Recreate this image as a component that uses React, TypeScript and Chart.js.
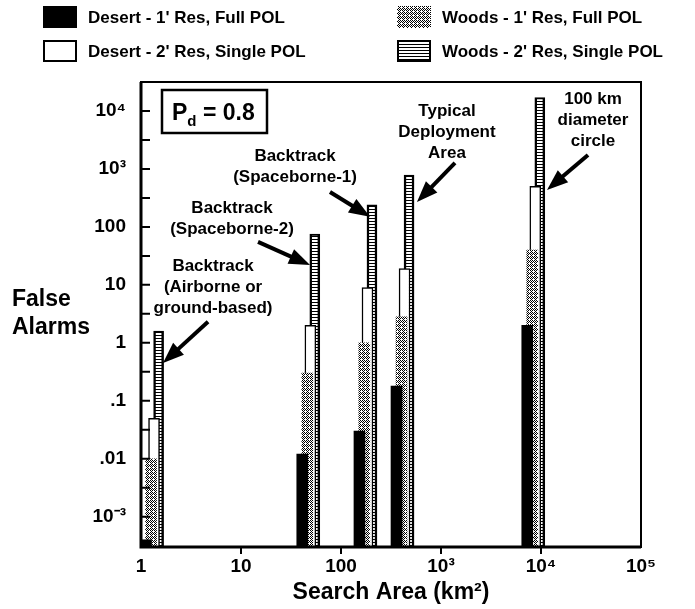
import React, { useEffect, useRef } from 'react';
import { Chart, registerables } from 'chart.js';

Chart.register(...registerables);

// ---------------- data ----------------
const SERIES_NAMES = [
  "Desert - 1' Res, Full POL",
  "Woods - 1' Res, Full POL",
  "Desert - 2' Res, Single POL",
  "Woods - 2' Res, Single POL",
];

// search area (km²) and false alarms for each bar, per series
const DESERT_1_AREA = [1.12, 41, 153, 359, 7290];
const DESERT_1_ALARMS = [0.0004, 0.012, 0.03, 0.18, 2];
const WOODS_1_AREA = [1.26, 46, 171, 403, 8180];
const WOODS_1_ALARMS = [0.01, 0.3, 1.0, 2.8, 40];
const DESERT_2_AREA = [1.35, 49.4, 184, 432, 8770];
const DESERT_2_ALARMS = [0.05, 2, 9, 19, 500];
const WOODS_2_AREA = [1.5, 54.7, 204, 479, 9730];
const WOODS_2_ALARMS = [1.6, 75, 240, 780, 17000];

const X_TICKS = [1, 10, 100, 1000, 10000, 100000];
const X_TICK_LABELS = ['1', '10', '100', '10³', '10⁴', '10⁵'];
const Y_TICKS = [1e-3, 1e-2, 0.1, 1, 10, 100, 1e3, 1e4];
const Y_TICK_LABELS = ['10⁻³', '.01', '.1', '1', '10', '100', '10³', '10⁴'];

const X_MIN = 1;
const X_MAX = 1e5;
const Y_MIN = Math.pow(10, -3.5);
const Y_MAX = Math.pow(10, 4.5);

// annotations: text centre and arrow (from -> tip) in data coordinates
const NOTE_LINES = [
  ['Backtrack', '(Airborne or', 'ground-based)'],
  ['Backtrack', '(Spaceborne-2)'],
  ['Backtrack', '(Spaceborne-1)'],
  ['Typical', 'Deployment', 'Area'],
  ['100 km', 'diameter', 'circle'],
];
const NOTE_TEXT_AT = [[5.25, 9.25], [8.13, 137], [34.7, 1083], [1148, 4345], [33113, 7000]];
const NOTE_ARROW_FROM = [[4.68, 2.3], [14.8, 55], [77.6, 401], [1380, 1268], [29512, 1742]];
const NOTE_ARROW_TO = [[1.66, 0.45], [49, 22], [195, 149], [575, 270], [11482, 435]];

const PD_TEXT = ['P', 'd', ' = 0.8'];
const X_TITLE = 'Search Area (km²)';
const Y_TITLE = ['False', 'Alarms'];

const FAMILY = '"Liberation Sans", Arial, Helvetica, sans-serif';

function makeDots(): CanvasPattern | string {
  const c = document.createElement('canvas');
  c.width = 4;
  c.height = 4;
  const g = c.getContext('2d');
  if (!g) return '#999';
  g.fillStyle = '#fff';
  g.fillRect(0, 0, 4, 4);
  g.fillStyle = '#000';
  const on = [
    [0, 0], [2, 0], [1, 1], [3, 1], [0, 2], [2, 2], [3, 3],
  ];
  on.forEach(([x, y]) => g.fillRect(x, y, 1, 1));
  return g.createPattern(c, 'repeat') || '#999';
}

function makeStripes(): CanvasPattern | string {
  const c = document.createElement('canvas');
  c.width = 2;
  c.height = 3;
  const g = c.getContext('2d');
  if (!g) return '#444';
  g.fillStyle = '#fff';
  g.fillRect(0, 0, 2, 3);
  g.fillStyle = '#000';
  g.fillRect(0, 2, 2, 1);
  return g.createPattern(c, 'repeat') || '#444';
}

function drawArrow(ctx: CanvasRenderingContext2D, x1: number, y1: number, x2: number, y2: number) {
  const ang = Math.atan2(y2 - y1, x2 - x1);
  const headLen = 21;
  const headHalf = 8;
  const bx = x2 - Math.cos(ang) * headLen;
  const by = y2 - Math.sin(ang) * headLen;
  ctx.save();
  ctx.strokeStyle = '#000';
  ctx.fillStyle = '#000';
  ctx.lineWidth = 4;
  ctx.lineCap = 'butt';
  ctx.beginPath();
  ctx.moveTo(x1, y1);
  ctx.lineTo(bx + Math.cos(ang) * 2, by + Math.sin(ang) * 2);
  ctx.stroke();
  ctx.beginPath();
  ctx.moveTo(x2, y2);
  ctx.lineTo(bx - Math.sin(ang) * headHalf, by + Math.cos(ang) * headHalf);
  ctx.lineTo(bx + Math.sin(ang) * headHalf, by - Math.cos(ang) * headHalf);
  ctx.closePath();
  ctx.fill();
  ctx.restore();
}

export default function App() {
  const ref = useRef<HTMLCanvasElement>(null);

  useEffect(() => {
    document.body.style.margin = '0';
    const canvas = ref.current;
    if (!canvas) return;
    const dots = makeDots();
    const stripes = makeStripes();

    const overlay = {
      id: 'overlay',
      afterDraw(chart: any) {
        const ctx: CanvasRenderingContext2D = chart.ctx;
        const xs = chart.scales.x;
        const ys = chart.scales.y;
        const a = chart.chartArea;
        ctx.save();

        // frame
        ctx.strokeStyle = '#000';
        ctx.lineWidth = 2;
        ctx.strokeRect(a.left, a.top, a.right - a.left, a.bottom - a.top);
        ctx.lineWidth = 3;
        ctx.beginPath();
        ctx.moveTo(a.left, a.top);
        ctx.lineTo(a.left, a.bottom);
        ctx.lineTo(a.right, a.bottom);
        ctx.stroke();

        // y ticks (inward), major and half-decade minor
        ctx.lineWidth = 2;
        const yTickVals: number[] = [];
        Y_TICKS.forEach((v, i) => {
          yTickVals.push(v);
          if (i < Y_TICKS.length - 1) yTickVals.push(Math.sqrt(v * Y_TICKS[i + 1]));
        });
        ctx.beginPath();
        yTickVals.forEach((v) => {
          const py = ys.getPixelForValue(v);
          if (py <= a.top + 2 || py >= a.bottom - 2) return;
          ctx.moveTo(a.left, py);
          ctx.lineTo(a.left + 9, py);
        });
        ctx.stroke();

        // x ticks (outward)
        ctx.beginPath();
        X_TICKS.forEach((v) => {
          const px = xs.getPixelForValue(v);
          if (px <= a.left + 2 || px >= a.right - 2) return;
          ctx.moveTo(px, a.bottom);
          ctx.lineTo(px, a.bottom + 7);
        });
        ctx.stroke();

        // y title
        ctx.fillStyle = '#000';
        ctx.font = `bold 23px ${FAMILY}`;
        ctx.textAlign = 'left';
        ctx.textBaseline = 'alphabetic';
        ctx.fillText(Y_TITLE[0], 12, 306);
        ctx.fillText(Y_TITLE[1], 12, 334);

        // P_d box
        const bx = a.left + 21;
        const by = a.top + 8;
        ctx.lineWidth = 2.5;
        ctx.strokeRect(bx, by, 105, 43);
        ctx.font = `bold 23px ${FAMILY}`;
        ctx.fillText(PD_TEXT[0], bx + 10, by + 30);
        const pw = ctx.measureText(PD_TEXT[0]).width;
        ctx.font = `bold 15px ${FAMILY}`;
        ctx.fillText(PD_TEXT[1], bx + 10 + pw, by + 36);
        const dw = ctx.measureText(PD_TEXT[1]).width;
        ctx.font = `bold 23px ${FAMILY}`;
        ctx.fillText(PD_TEXT[2], bx + 10 + pw + dw, by + 30);

        // annotations
        ctx.font = `bold 17px ${FAMILY}`;
        ctx.textAlign = 'center';
        ctx.textBaseline = 'middle';
        const lh = 21;
        NOTE_LINES.forEach((lines, i) => {
          const cx = xs.getPixelForValue(NOTE_TEXT_AT[i][0]);
          const cy = ys.getPixelForValue(NOTE_TEXT_AT[i][1]);
          lines.forEach((t, j) => {
            ctx.fillText(t, cx, cy + (j - (lines.length - 1) / 2) * lh);
          });
          drawArrow(
            ctx,
            xs.getPixelForValue(NOTE_ARROW_FROM[i][0]),
            ys.getPixelForValue(NOTE_ARROW_FROM[i][1]),
            xs.getPixelForValue(NOTE_ARROW_TO[i][0]),
            ys.getPixelForValue(NOTE_ARROW_TO[i][1])
          );
        });

        // legend
        const legendX = [43, 397];
        const legendY = [6, 40];
        const bw = 34;
        const bh = 22;
        ctx.font = `bold 17px ${FAMILY}`;
        ctx.textAlign = 'left';
        ctx.textBaseline = 'middle';
        const items = [
          { name: SERIES_NAMES[0], col: 0, row: 0 },
          { name: SERIES_NAMES[1], col: 1, row: 0 },
          { name: SERIES_NAMES[2], col: 0, row: 1 },
          { name: SERIES_NAMES[3], col: 1, row: 1 },
        ];
        items.forEach((it, k) => {
          const lx = legendX[it.col];
          const ly = legendY[it.row];
          if (k === 0) {
            ctx.fillStyle = '#000';
            ctx.fillRect(lx, ly, bw, bh);
          } else if (k === 1) {
            ctx.fillStyle = dots as any;
            ctx.fillRect(lx, ly, bw, bh);
          } else if (k === 2) {
            ctx.fillStyle = '#fff';
            ctx.fillRect(lx, ly, bw, bh);
            ctx.lineWidth = 2;
            ctx.strokeStyle = '#000';
            ctx.strokeRect(lx + 1, ly + 1, bw - 2, bh - 2);
          } else {
            ctx.fillStyle = stripes as any;
            ctx.fillRect(lx, ly, bw, bh);
            ctx.lineWidth = 2;
            ctx.strokeStyle = '#000';
            ctx.strokeRect(lx + 1, ly + 1, bw - 2, bh - 2);
          }
          ctx.fillStyle = '#000';
          ctx.fillText(it.name, lx + 45, ly + bh / 2 + 1);
        });

        ctx.restore();
      },
    };

    const pts = (xsArr: number[], ysArr: number[]) => xsArr.map((x, i) => ({ x, y: ysArr[i] }));

    const chart = new Chart(canvas, {
      type: 'bar',
      data: {
        datasets: [
          {
            label: SERIES_NAMES[0],
            data: pts(DESERT_1_AREA, DESERT_1_ALARMS),
            backgroundColor: '#000',
            borderWidth: 0,
            barThickness: 11,
            grouped: false,
            order: 0,
          },
          {
            label: SERIES_NAMES[1],
            data: pts(WOODS_1_AREA, WOODS_1_ALARMS),
            backgroundColor: dots as any,
            borderWidth: 0,
            barThickness: 11,
            grouped: false,
            order: 1,
          },
          {
            label: SERIES_NAMES[2],
            data: pts(DESERT_2_AREA, DESERT_2_ALARMS),
            backgroundColor: '#fff',
            borderColor: '#000',
            borderWidth: { left: 1.5, right: 1.5, top: 1.5, bottom: 0 },
            barThickness: 11,
            grouped: false,
            order: 2,
          },
          {
            label: SERIES_NAMES[3],
            data: pts(WOODS_2_AREA, WOODS_2_ALARMS),
            backgroundColor: stripes as any,
            borderColor: '#000',
            borderWidth: { left: 2.5, right: 2.5, top: 2, bottom: 0 },
            barThickness: 10,
            grouped: false,
            order: 3,
          },
        ] as any,
      },
      options: {
        animation: false,
        responsive: false,
        maintainAspectRatio: false,
        layout: { padding: { left: 0, top: 82, right: 54, bottom: 0 } },
        plugins: {
          legend: { display: false },
          tooltip: { enabled: false },
        },
        scales: {
          x: {
            type: 'logarithmic',
            min: X_MIN,
            max: X_MAX,
            offset: false,
            afterBuildTicks: (s: any) => {
              s.ticks = X_TICKS.map((v) => ({ value: v }));
            },
            afterFit: (s: any) => {
              s.height = 62;
            },
            grid: { display: false, offset: false },
            border: { display: false },
            ticks: {
              autoSkip: false,
              maxRotation: 0,
              padding: 0,
              color: '#000',
              font: { family: FAMILY, size: 19, weight: 'bold' },
              callback: (v: any) => {
                const i = X_TICKS.indexOf(Number(v));
                return i >= 0 ? X_TICK_LABELS[i] : '';
              },
            },
            title: {
              display: true,
              text: X_TITLE,
              color: '#000',
              font: { family: FAMILY, size: 23, weight: 'bold' },
              padding: { top: 0, bottom: 3 },
            },
          },
          y: {
            type: 'logarithmic',
            min: Y_MIN,
            max: Y_MAX,
            afterBuildTicks: (s: any) => {
              s.ticks = Y_TICKS.map((v) => ({ value: v }));
            },
            afterFit: (s: any) => {
              s.width = 141;
            },
            grid: { display: false },
            border: { display: false },
            ticks: {
              autoSkip: false,
              padding: 7,
              color: '#000',
              font: { family: FAMILY, size: 19, weight: 'bold' },
              callback: (v: any) => {
                const i = Y_TICKS.indexOf(Number(v));
                return i >= 0 ? Y_TICK_LABELS[i] : '';
              },
            },
          },
        } as any,
      },
      plugins: [overlay],
    } as any);

    return () => chart.destroy();
  }, []);

  return (
    <div style={{ position: 'absolute', left: 0, top: 0, width: 695, height: 609 }}>
      <canvas ref={ref} width={695} height={609} style={{ display: 'block' }} />
    </div>
  );
}
